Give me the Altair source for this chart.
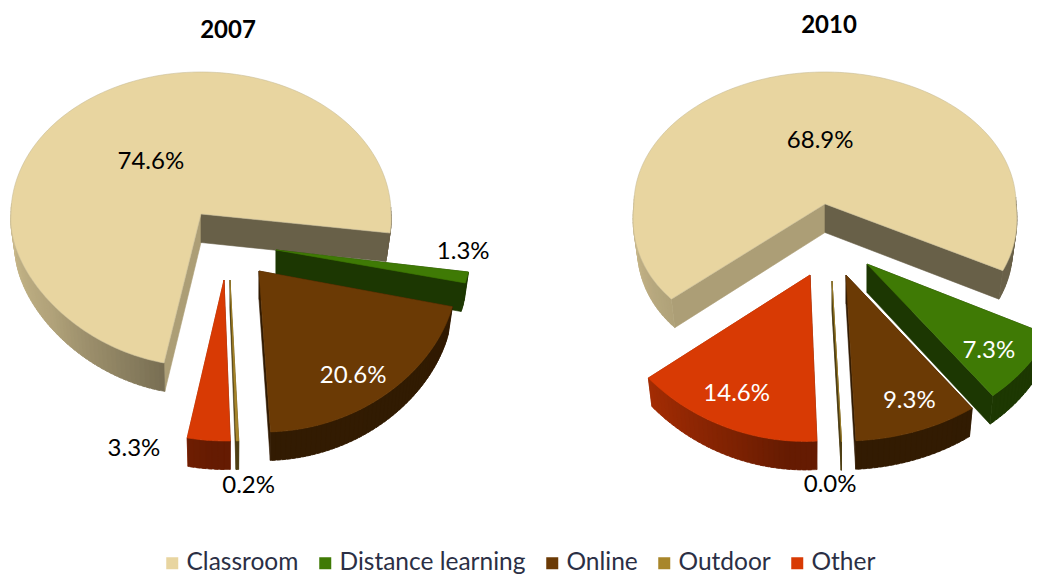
import math
import altair as alt

CATEGORIES = ["Classroom", "Distance learning", "Online", "Outdoor", "Other"]
BASE_COLORS = ["#E8D5A0", "#3F7A05", "#6B3A05", "#A8862A", "#D83A04"]
YEARS = ["2007", "2010"]
SHARES_2007 = [74.6, 1.3, 20.6, 0.2, 3.3]
SHARES_2010 = [68.9, 7.3, 9.3, 0.0, 14.6]

# ---- drawing parameters (layout only) ----
PAGE = 8
DEPTH = 28.5
SHRINK = 0.978
FONT = "Lato"
START = {"2007": 100.7, "2010": 139.0}
# cx, cy, rx, ry_far, ry_near, k, kx, shear : one exploded sector per category
GEOM = {
    "2007": [
        (201, 214, 190, 142, 112, 0.36, 0.05, 0),
        (276, 250, 195, 137, 137, 0, 0, 0),
        (259, 271, 198, 144, 144, 0.118, 0, 5),
        (230, 280, 205, 144, 144, 0.118, 0, 2),
        (224, 280, 209, 144, 144, 0.118, 0, 2),
    ],
    "2010": [
        (825, 204, 191, 132, 150, -0.05, 0.1, 0),
        (867, 264, 195, 145.5, 145.5, 0.16, 0.1, 0),
        (846, 275, 214, 166, 166, 0, 0, -2),
        (832, 281, 170, 161, 161, 0, 0, 0),
        (810, 275, 209, 142.6, 142.6, 0.167, 0, -4.7),
    ],
}
# label placement relative to each sector: angle offset from its middle, radius fraction
LABEL = {
    "2007": [(0, 0.46), (-11.35, 0.96), (4, 0.80), (-2, 1.27), (18, 1.14)],
    "2010": [(4, 0.487), (2, 0.79), (-2, 0.81), (3.7, 1.26), (2, 0.79)],
}
WHITE = {"2007": {"Online"}, "2010": {"Distance learning", "Online", "Other"}}
TITLE_XY = {"2007": (228, 29), "2010": (829, 24)}


def point(g, deg, f=1.0):
    cx, cy, rx, ry_far, ry, k, kx, sh = g
    c, s = math.cos(math.radians(deg)), math.sin(math.radians(deg))
    near = max(s, 0)
    x = rx * c * (1 + kx * near) + sh * s
    y = ry_far * s if s < 0 else ry * s * (1 + k * s)
    return (cx + f * x - PAGE, cy + f * y - PAGE)


def lower(g, p):
    cx = g[0] - PAGE
    return (cx + (p[0] - cx) * SHRINK, p[1] + DEPTH)


def hexmix(col, f):
    rgb = [int(col[i:i + 2], 16) for i in (1, 3, 5)]
    return "#%02x%02x%02x" % tuple(round(v * f) for v in rgb)


def shade(deg):
    d = deg % 360
    stops = [(0, 0.45), (95, 0.47), (110, 0.58), (140, 0.76), (180, 0.88), (360, 0.45)]
    for (a, fa), (b, fb) in zip(stops, stops[1:]):
        if a <= d <= b:
            return fa + (fb - fa) * (d - a) / (b - a)
    return 0.45


def poly(points, key):
    ring = [list(p) for p in points]
    ring.append(ring[0])
    return {"type": "Feature", "properties": {"key": key},
            "geometry": {"type": "Polygon", "coordinates": [ring]}}


features, keys, colors, labels = [], list(CATEGORIES), list(BASE_COLORS), []


def wall_key(col):
    if col not in keys:
        keys.append(col)
        colors.append(col)
    return col


for year, shares in zip(YEARS, [SHARES_2007, SHARES_2010]):
    a = START[year]
    for i, (cat, share) in enumerate(zip(CATEGORIES, shares)):
        g = GEOM[year][i]
        b = a + share * 3.6
        n = max(2, int((b - a) / 1.5))
        angs = [a + (b - a) * j / n for j in range(n + 1)]
        apex = (g[0] - PAGE, g[1] - PAGE)
        # radial walls, then rim, then the top face, painted in order
        for edge in (a, b):
            tip = point(g, edge)
            f = 0.74 if 95 < edge % 360 < 180 else 0.45
            key = wall_key(hexmix(BASE_COLORS[i], f))
            features.append(poly([apex, tip, lower(g, tip), lower(g, apex)], key))
        for u, v in zip(angs, angs[1:]):
            if math.sin(math.radians((u + v) / 2)) > -0.05:
                # each rim piece runs on under the next one, so no seam shows
                w = min(v + 1.0, b)
                p, q = point(g, u), point(g, w)
                key = wall_key(hexmix(BASE_COLORS[i], shade((u + v) / 2)))
                features.append(poly([p, q, lower(g, q), lower(g, p)], key))
        features.append(poly([apex] + [point(g, t) for t in angs], cat))
        da, fr = LABEL[year][i]
        lx, ly = point(g, (a + b) / 2 + da, fr)
        labels.append({"px": lx, "py": ly, "text": f"{share:.1f}%",
                       "white": cat in WHITE[year]})
        a = b

titles = [{"px": TITLE_XY[y][0] - PAGE, "py": TITLE_XY[y][1] - PAGE, "text": y} for y in YEARS]

stroke_colors = ["#C9BD98"] + colors[1:]

shapes = alt.Chart(
    alt.InlineData(values={"type": "FeatureCollection", "features": features},
                   format=alt.DataFormat(property="features", type="json"))
).mark_geoshape(strokeWidth=0.6, clip=True).encode(
    color=alt.Color(
        "properties.key:N", sort=None,
        scale=alt.Scale(domain=keys, range=colors),
        legend=alt.Legend(
            values=CATEGORIES, title=None, orient="none", direction="horizontal",
            columns=5, gridAlign="none", columnPadding=14,
            legendX=160 - PAGE, legendY=551 - PAGE, symbolType="square",
            symbolSize=144, symbolStrokeWidth=0, symbolOffset=0, labelOffset=2,
            labelFont=FONT, labelFontSize=24.5, labelColor="#2b2f45", padding=0,
            labelLimit=300, symbolOpacity=1,
        ),
    ),
    stroke=alt.Stroke("properties.key:N", scale=alt.Scale(domain=keys, range=stroke_colors), legend=None),
).project(type="identity", scale=1, translate=[0, 0])


def text_layer(rows, color, bold=False):
    return alt.Chart(alt.Data(values=rows)).mark_text(
        font=FONT, fontSize=24, fontWeight="bold" if bold else "normal",
        color=color, align="center", baseline="middle", dy=1.5,
    ).encode(
        x=alt.X("px:Q", scale=None, axis=None),
        y=alt.Y("py:Q", scale=None, axis=None),
        text="text:N",
    )


chart = alt.layer(
    shapes,
    text_layer([r for r in labels if not r["white"]], "#000000"),
    text_layer([r for r in labels if r["white"]], "#ffffff"),
    text_layer(titles, "#000000", bold=True),
).properties(width=1024, height=566, padding=0,
             autosize=alt.AutoSizeParams(type="none")).configure_view(stroke=None)

chart.save("out.html", embed_options={"renderer": "svg", "actions": False})
